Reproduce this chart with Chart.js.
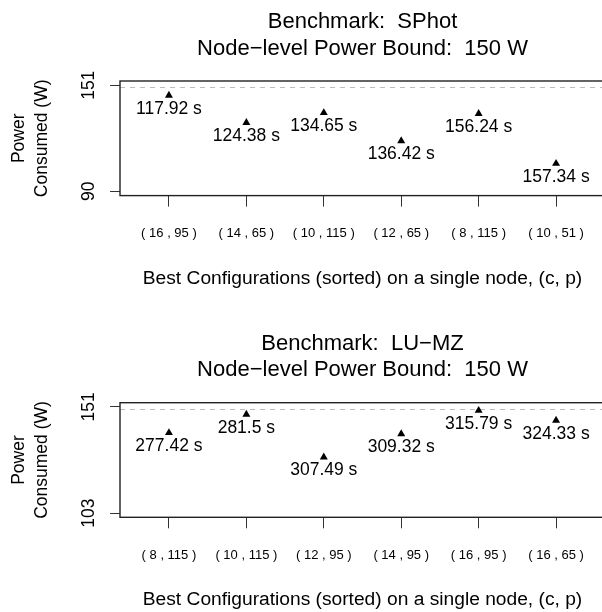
<!DOCTYPE html>
<html><head><meta charset="utf-8">
<script src="https://cdn.jsdelivr.net/npm/chart.js@4.4.0/dist/chart.umd.min.js"></script>
<style>
html,body{margin:0;padding:0;background:#fff;width:602px;height:612px;overflow:hidden;}
#wrap{position:relative;width:602px;height:612px;overflow:hidden;background:#fff;}
canvas{position:absolute;left:0;}
</style></head><body>
<div id="wrap">
<canvas id="c1" width="640" height="306" style="top:0px"></canvas>
<canvas id="c2" width="640" height="306" style="top:306px"></canvas>
</div>
<script>
// ---- data ----
const sphotTitle = "Benchmark:  SPhot";
const sphotConfigs = ["( 16 , 95 )", "( 14 , 65 )", "( 10 , 115 )", "( 12 , 65 )", "( 8 , 115 )", "( 10 , 51 )"];
const sphotPower = [145.2, 129.5, 135.2, 119.0, 134.7, 106.0];
const sphotTimes = ["117.92 s", "124.38 s", "134.65 s", "136.42 s", "156.24 s", "157.34 s"];
const sphotYTicks = [90, 151];

const luTitle = "Benchmark:  LU\u2212MZ";
const luConfigs = ["( 8 , 115 )", "( 10 , 115 )", "( 12 , 95 )", "( 14 , 95 )", "( 16 , 95 )", "( 16 , 65 )"];
const luPower = [139.3, 147.6, 128.3, 138.8, 149.4, 144.9];
const luTimes = ["277.42 s", "281.5 s", "307.49 s", "309.32 s", "315.79 s", "324.33 s"];
const luYTicks = [103, 151];

const boundTitle = "Node\u2212level Power Bound:  150 W";
const powerBound = 150;
const xTitle = "Best Configurations (sorted) on a single node, (c, p)";
const yTitle1 = "Power";
const yTitle2 = "Consumed (W)";

const FONT = '"Liberation Sans", Arial, Helvetica, sans-serif';

function decorPlugin(o) {
  return {
    id: 'decor',
    beforeDatasetsDraw(chart) {
      const ctx = chart.ctx, a = chart.chartArea, y = chart.scales.y;
      const py = Math.round(y.getPixelForValue(o.bound)) + 0.5;
      ctx.save();
      ctx.strokeStyle = '#bdbdbd';
      ctx.lineWidth = 1;
      ctx.setLineDash([5, 5]);
      ctx.beginPath();
      ctx.moveTo(a.left, py);
      ctx.lineTo(a.right, py);
      ctx.stroke();
      ctx.restore();
    },
    afterDraw(chart) {
      const ctx = chart.ctx, a = chart.chartArea, xs = chart.scales.x, ys = chart.scales.y;
      ctx.save();
      // box
      ctx.strokeStyle = '#222';
      ctx.lineWidth = 1.4;
      ctx.strokeRect(a.left, a.top, a.right - a.left, a.bottom - a.top);
      ctx.fillStyle = '#000';
      // titles
      const cx = (a.left + a.right) / 2;
      ctx.font = '22px ' + FONT;
      ctx.textAlign = 'center';
      ctx.textBaseline = 'alphabetic';
      ctx.fillText(o.title1, cx, a.top - 53.1);
      ctx.fillText(o.title2, cx, a.top - 26.3);
      // y axis title
      ctx.font = '17.5px ' + FONT;
      const my = (a.top + a.bottom) / 2;
      [[yTitle1, 23.8], [yTitle2, 46.8]].forEach(([t, bx]) => {
        ctx.save(); ctx.translate(bx, my); ctx.rotate(-Math.PI / 2);
        ctx.fillText(t, 0, 0); ctx.restore();
      });
      // y tick labels
      o.yTicks.forEach(v => {
        ctx.save(); ctx.translate(94, ys.getPixelForValue(v)); ctx.rotate(-Math.PI / 2);
        ctx.fillText(String(v), 0, 0); ctx.restore();
      });
      // x tick labels
      ctx.font = '13px ' + FONT;
      o.configs.forEach((c, i) => {
        ctx.fillText(c, xs.getPixelForValue(i + 1), a.bottom + 41.6);
      });
      // x title
      ctx.font = '19.2px ' + FONT;
      ctx.fillText(xTitle, cx, a.bottom + 87.9);
      // point labels
      ctx.font = '17.5px ' + FONT;
      o.power.forEach((v, i) => {
        ctx.fillText(o.times[i], xs.getPixelForValue(i + 1), ys.getPixelForValue(v) + 18.3);
      });
      ctx.restore();
    }
  };
}

function makeChart(id, o) {
  return new Chart(document.getElementById(id), {
    type: 'scatter',
    data: {
      datasets: [{
        data: o.power.map((v, i) => ({ x: i + 1, y: v })),
        pointStyle: 'triangle',
        pointRadius: 4.6,
        backgroundColor: '#000',
        borderColor: '#000',
        borderWidth: 0
      }]
    },
    options: {
      responsive: false,
      animation: false,
      devicePixelRatio: 1,
      layout: { padding: { top: o.top, right: 35, left: 0, bottom: 0 } },
      plugins: { legend: { display: false }, tooltip: { enabled: false }, title: { display: false } },
      scales: {
        x: {
          type: 'linear', min: 0.368, max: 6.632,
          afterBuildTicks: s => { s.ticks = o.configs.map((c, i) => ({ value: i + 1 })); },
          ticks: { display: false },
          grid: { drawOnChartArea: false, drawTicks: true, tickLength: 11, color: '#333', lineWidth: 1 },
          border: { display: false },
          afterFit: s => { s.height = o.xAxisH; }
        },
        y: {
          type: 'linear', min: o.ymin, max: o.ymax,
          afterBuildTicks: s => { s.ticks = o.yTicks.map(v => ({ value: v })); },
          ticks: { display: false },
          grid: { drawOnChartArea: false, drawTicks: true, tickLength: 10, color: '#333', lineWidth: 1 },
          border: { display: false },
          afterFit: s => { s.width = 120; }
        }
      }
    },
    plugins: [decorPlugin(o)]
  });
}

makeChart('c1', {
  title1: sphotTitle, title2: boundTitle, configs: sphotConfigs, power: sphotPower, times: sphotTimes,
  yTicks: sphotYTicks, bound: powerBound, ymin: 87.56, ymax: 153.44, top: 81, xAxisH: 110.4
});
makeChart('c2', {
  title1: luTitle, title2: boundTitle, configs: luConfigs, power: luPower, times: luTimes,
  yTicks: luYTicks, bound: powerBound, ymin: 101.08, ymax: 152.92, top: 96.7, xAxisH: 94.7
});
</script>
</body></html>
